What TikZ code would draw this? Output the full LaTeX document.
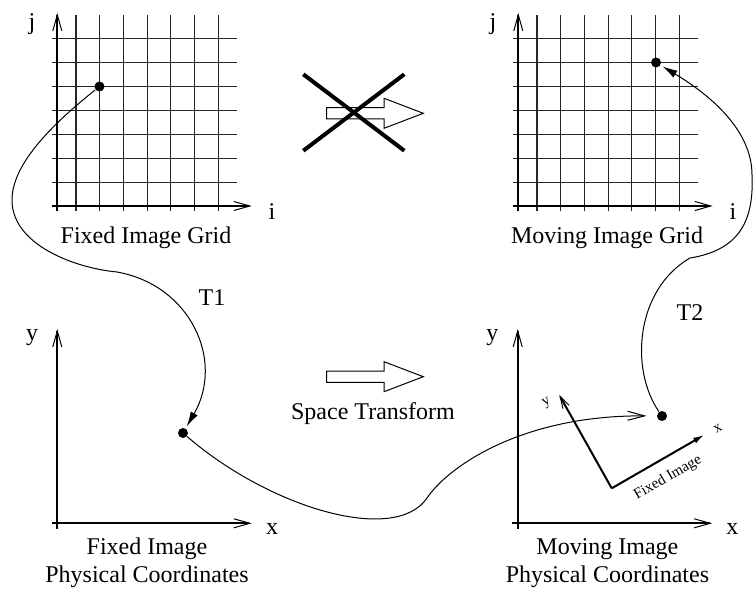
\documentclass[tikz,border=0pt]{standalone}
\usepackage{fontspec}
\setmainfont{Liberation Serif}
\usetikzlibrary{arrows.meta}
\begin{document}
\begin{tikzpicture}[x=0.5pt,y=-0.5pt,line width=0.5pt,
  every node/.style={font=\fontsize{12}{14}\selectfont,inner sep=1pt},
  gridline/.style={line width=0.6pt,black!85},
  axis/.style={line width=1pt,-{Straight Barb[length=8pt,width=4.5pt,line width=0.5pt]}},
  dot/.style={circle,fill,inner sep=0pt,minimum size=5pt},
  maparrow/.style={-{Latex[length=7.5pt,width=4pt]},shorten >=1pt},
  spacearrow/.style={-{Straight Barb[length=8.5pt,width=4.5pt]},shorten >=5pt},
  frameaxis/.style={line width=1pt},
  small/.style={font=\fontsize{7.5}{9}\selectfont,rotate=30}]
\useasboundingbox (0,0) rectangle (753,588);
% image grids
\foreach \gx/\name in {0/Fixed,461/Moving} {
  \begin{scope}[shift={(\gx,0)}]
    \foreach \k in {0,...,6} {
      \draw[gridline] ({76+23.7*\k},15) -- ({76+23.7*\k},211);
      \draw[gridline] (51.7,{38.3+24*\k}) -- (236.7,{38.3+24*\k});
    }
    \draw[axis] (57.3,211) -- (57.3,13);
    \draw[axis] (51.7,206) -- (251.7,206);
    \node (j\name) at (32,24) {j};
    \node (i\name) at (272,212) {i};
    \node (title\name) at (146,238) {\name{} Image Grid};
  \end{scope}
}
% physical coordinates
\foreach \gx/\name in {0/Fixed,460.4/Moving} {
  \begin{scope}[shift={(\gx,0)}]
    \draw[axis] (57.3,529) -- (57.3,329);
    \draw[axis] (51.7,523.3) -- (251.7,523.3);
    \node (y\name) at (32,338) {y};
    \node (x\name) at (272,529) {x};
    \node[align=center] (phys\name) at (147,563) {\name{} Image\\Physical Coordinates};
  \end{scope}
}
% block arrows
\foreach \ay in {113.3,376.7}
  \draw[fill=white] (326.7,\ay-5.6) -- (384,\ay-5.6) -- (384,\ay-15) -- (423.3,\ay)
    -- (384,\ay+15) -- (384,\ay+5.6) -- (326.7,\ay+5.6) -- cycle;
\draw[line width=2pt] (303.3,74.3) -- (404.3,150.7);
\draw[line width=2pt] (303.3,150.7) -- (404.3,74.3);
\node (space) at (373,414) {Space Transform};
% moved fixed image frame
\coordinate (fo) at (611.7,488.3);
\coordinate (fx) at (705,434.5);
\coordinate (fy) at (559.3,395);
\draw[frameaxis,-{Latex[length=6pt,width=3pt]}] (fo) -- (fx);
\draw[frameaxis,-{Straight Barb[length=6pt,width=3.5pt,line width=0.5pt]}] (fo) -- (fy);
\node[small] (fxl) at (718,429) {x};
\node[small] (fyl) at (547,403) {y};
\node[small] (fimg) at (668,478) {Fixed Image};
% points
\node[dot] (fgdot) at (99.5,86.5) {};
\node[dot] (mgdot) at (656,62.5) {};
\node[dot] (fpdot) at (183,433) {};
\node[dot] (mpdot) at (662,416) {};
% mappings
\draw[maparrow] (fgdot) .. controls (50,126) and (12,165) .. (12,200)
  .. controls (12,245) and (75,268) .. (117,272)
  .. controls (190,285) and (225,360) .. (fpdot);
\draw[maparrow] (mpdot) .. controls (630,370) and (635,290) .. (690,258)
  .. controls (740,250) and (754,220) .. (752,175)
  .. controls (752,130) and (710,95) .. (mgdot);
\draw[spacearrow] (fpdot) .. controls (270,508) and (395,545) .. (427,498)
  .. controls (447,468) and (520,415) .. (mpdot);
\node (t1) at (212,298) {T1};
\node (t2) at (690,313) {T2};
\end{tikzpicture}
\end{document}
